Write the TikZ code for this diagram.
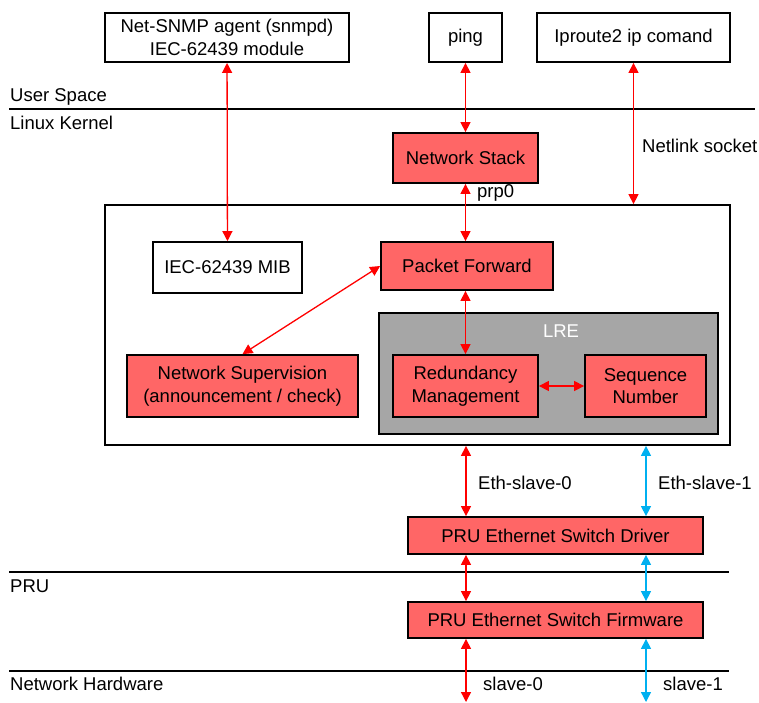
\documentclass[tikz,border=0pt]{standalone}
\usepackage{fontspec}
\setmainfont{Liberation Sans}
\usetikzlibrary{arrows.meta,positioning}

\definecolor{boxred}{HTML}{FF6666}
\definecolor{lregray}{HTML}{A6A6A6}
\definecolor{linkblue}{HTML}{00B0F0}

\begin{document}
\begin{tikzpicture}[x=1pt,y=-1pt,
  font=\fontsize{18.5}{22.5}\selectfont,
  box/.style={draw,line width=1.8pt,align=center,inner sep=0pt,
    minimum width=#1},
  box/.default=100pt,
  redbox/.style={box=#1,fill=boxred},
  lbl/.style={inner sep=1pt,anchor=west},
  link/.style={{Triangle[width=10pt,length=10pt]}-{Triangle[width=10pt,length=10pt]},
    line width=1.3pt,red},
  bluelink/.style={link,linkblue},
  layer/.style={line width=1.8pt}]
 \useasboundingbox (0,0) rectangle (759,702);

 % user space
 \node[box=244pt,minimum height=49pt] (snmp) at (227,37.5)
   {Net-SNMP agent (snmpd)\\IEC-62439 module};
 \node[box=73pt,minimum height=49pt] (ping) at (465.5,37.5) {ping};
 \node[box=193pt,minimum height=49pt] (iproute) at (633.5,37.5) {Iproute2 ip comand};

 \draw[layer] (9,109) -- (755,109);
 \node[lbl] (us) at (9,97) {User Space};
 \node[lbl] (lk) at (9,123) {Linux Kernel};

 % kernel
 \node[redbox=145pt,minimum height=50pt] (stack) at (465.5,158) {Network Stack};
 \node[box=625pt,minimum height=240pt] (kernel) at (417.5,325) {};
 \node[box=149pt,minimum height=51pt] (mib) at (227.5,267.5) {IEC-62439 MIB};
 \node[redbox=172pt,minimum height=48pt] (pf) at (467,266) {Packet Forward};
 \node[box=339pt,minimum height=121pt,fill=lregray] (lre) at (548.5,373.5) {};
 \node[text=white,inner sep=0pt] (lrelbl) at (561,331) {LRE};
 \node[redbox=231pt,minimum height=62pt] (sup) at (242.5,386)
   {Network Supervision\\(announcement / check)};
 \node[redbox=145pt,minimum height=62pt] (rdm) at (465.5,386)
   {Redundancy\\Management};
 \node[redbox=121pt,minimum height=62pt] (seq) at (645.5,386)
   {Sequence\\Number};

 % pru
 \node[redbox=295pt,minimum height=37pt] (drv) at (555.5,535.5)
   {PRU Ethernet Switch Driver};
 \draw[layer] (9,572) -- (729,572);
 \node[lbl] (pru) at (9,586) {PRU};
 \node[redbox=295pt,minimum height=36pt] (fw) at (555.5,620)
   {PRU Ethernet Switch Firmware};
 \draw[layer] (9,671) -- (729,671);
 \node[lbl] (hw) at (9,684) {Network Hardware};

 \coordinate (s0) at (466,702);
 \coordinate (s1) at (646,702);

 % links
 \draw[link] (snmp) -- (mib);
 \draw[link] (ping) -- (stack);
 \draw[link] (iproute.south) -- (iproute.south |- kernel.north);
 \draw[link] (stack.south) -- (stack.south |- pf.north);
 \draw[link] (pf.west) -- (sup.north);
 \draw[link] (rdm.north |- pf.south) -- (rdm.north);
 \draw[link] (rdm.east) -- (seq.west);

 \draw[link] (kernel.south -| s0) -- (drv.north -| s0);
 \draw[link] (drv.south -| s0) -- (fw.north -| s0);
 \draw[link] (fw.south -| s0) -- (s0);
 \draw[bluelink] (kernel.south -| s1) -- (drv.north -| s1);
 \draw[bluelink] (drv.south -| s1) -- (fw.north -| s1);
 \draw[bluelink] (fw.south -| s1) -- (s1);

 \node[lbl] (nl) at (641,146) {Netlink socket};
 \node[lbl] (prp) at (476,193) {prp0};
 \node[lbl] (es0) at (477,483) {Eth-slave-0};
 \node[lbl] (es1) at (657,483) {Eth-slave-1};
 \node[lbl] (sl0) at (482,684) {slave-0};
 \node[lbl] (sl1) at (662,684) {slave-1};
\end{tikzpicture}
\end{document}
